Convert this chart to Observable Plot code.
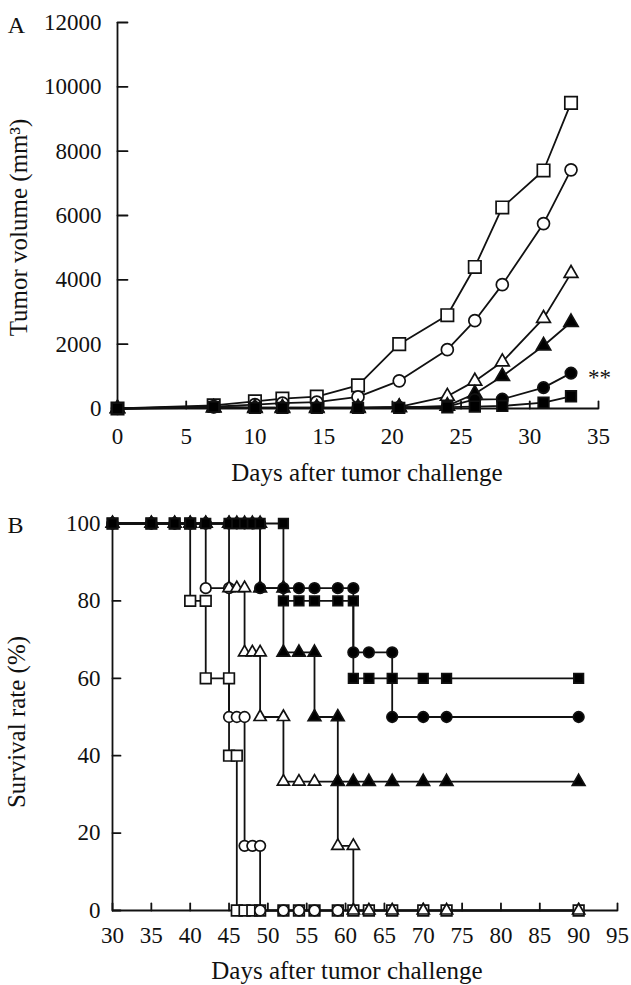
<!DOCTYPE html>
<html><head><meta charset="utf-8">
<script src="https://cdn.jsdelivr.net/npm/d3@7"></script>
<script src="https://cdn.jsdelivr.net/npm/@observablehq/plot@0.6"></script>
<style>
body{margin:0;background:#fff;}
#chart svg{display:block;}
</style></head><body><div id="chart"></div>
<script>
// ---------- Panel A: tumor volume ----------
const daysA = [0, 7, 10, 12, 14.5, 17.5, 20.5, 24, 26, 28, 31, 33];
const volOpenSquare    = [0, 100, 220, 310, 370, 720, 2000, 2900, 4400, 6250, 7400, 9500];
const volOpenCircle    = [0, 60, 120, 170, 200, 360, 860, 1830, 2730, 3850, 5750, 7420];
const volOpenTriangle  = [0, 30, 30, 30, 30, 30, 50, 380, 850, 1450, 2800, 4200];
const volFilledTriangle= [0, 20, 10, 10, 10, 10, 30, 80, 460, 1000, 1950, 2680];
const volFilledCircle  = [0, 40, 30, 30, 30, 30, 40, 60, 280, 290, 650, 1100];
const volFilledSquare  = [0, 50, 20, 20, 20, 20, 20, 40, 60, 80, 180, 380];
const xTicksA = [0, 5, 10, 15, 20, 25, 30, 35];
const yTicksA = [0, 2000, 4000, 6000, 8000, 10000, 12000];

// ---------- Panel B: survival (marker points along each step curve) ----------
const osDays = [30,35,38,40,40,42,42,45,45,46,46,47,48,49,52,54,56,59,61,63,66,70,73,90];
const osSurv = [100,100,100,100,80,80,60,60,40,40,0,0,0,0,0,0,0,0,0,0,0,0,0,0];
const ocDays = [30,35,38,40,42,42,45,45,46,47,47,48,49,49,52,54,56,59];
const ocSurv = [100,100,100,100,100,83.3,83.3,50,50,50,16.7,16.7,16.7,0,0,0,0,0];
const otDays = [30,35,38,40,42,45,45,46,47,47,48,49,49,52,52,54,56,59,59,61,61,63,66,70,73,90];
const otSurv = [100,100,100,100,100,100,83.3,83.3,83.3,66.7,66.7,66.7,50,50,33.3,33.3,33.3,33.3,16.7,16.7,0,0,0,0,0,0];
const ftDays = [30,35,38,40,42,45,46,47,48,49,49,52,52,54,56,56,59,59,61,63,66,70,73,90];
const ftSurv = [100,100,100,100,100,100,100,100,100,100,83.3,83.3,66.7,66.7,66.7,50,50,33.3,33.3,33.3,33.3,33.3,33.3,33.3];
const fcDays = [30,35,38,40,42,45,46,47,48,49,49,52,54,56,59,61,61,63,66,66,70,73,90];
const fcSurv = [100,100,100,100,100,100,100,100,100,100,83.3,83.3,83.3,83.3,83.3,83.3,66.7,66.7,66.7,50,50,50,50];
const fsDays = [30,35,38,40,42,45,46,47,48,49,52,52,54,56,59,61,61,63,66,70,73,90];
const fsSurv = [100,100,100,100,100,100,100,100,100,100,100,80,80,80,80,80,60,60,60,60,60,60];
const xTicksB = [30,35,40,45,50,55,60,65,70,75,80,85,90,95];
const yTicksB = [0, 20, 40, 60, 80, 100];

// series styling
const seriesDef = [
  {key: "openSquare",    symbol: "square",   fill: "white"},
  {key: "openCircle",    symbol: "circle",   fill: "white"},
  {key: "openTriangle",  symbol: "triangle", fill: "white"},
  {key: "filledTriangle",symbol: "triangle", fill: "black"},
  {key: "filledCircle",  symbol: "circle",   fill: "black"},
  {key: "filledSquare",  symbol: "square",   fill: "black"}
];
const rA = {openSquare: 7.0, openCircle: 6.0, openTriangle: 5.1, filledTriangle: 5.3, filledCircle: 5.7, filledSquare: 6.0};
const rB = {openSquare: 6.0, openCircle: 5.3, openTriangle: 4.5, filledTriangle: 4.7, filledCircle: 5.3, filledSquare: 5.4};

const volA = {openSquare: volOpenSquare, openCircle: volOpenCircle, openTriangle: volOpenTriangle,
  filledTriangle: volFilledTriangle, filledCircle: volFilledCircle, filledSquare: volFilledSquare};
const rowsA = seriesDef.flatMap(s => daysA.map((d, i) => ({series: s.key, day: d, v: volA[s.key][i]})));

const survB = {openSquare: [osDays, osSurv], openCircle: [ocDays, ocSurv], openTriangle: [otDays, otSurv],
  filledTriangle: [ftDays, ftSurv], filledCircle: [fcDays, fcSurv], filledSquare: [fsDays, fsSurv]};
const rowsB = seriesDef.flatMap(s => survB[s.key][0].map((d, i) => ({series: s.key, day: d, v: survB[s.key][1][i]})));

const font = "'Liberation Serif', 'DejaVu Serif', serif";
const ink = "#111";
const sw = 1.8;
const tickShape = {draw(context, l) { context.moveTo(0, 0); context.lineTo(0, -l); }};

function dots(rows, rmap) {
  const order = ["openSquare","openCircle","openTriangle","filledTriangle","filledCircle","filledSquare"];
  return order.map(k => {
    const s = seriesDef.find(d => d.key === k);
    return Plot.dot(rows.filter(r => r.series === k), {
      x: "day", y: "v", symbol: () => s.symbol, r: rmap[k],
      fill: s.fill, stroke: ink, strokeWidth: 1.7
    });
  });
}

function inwardTicks(xTicks, yTicks, x0, y0, lenX, lenY) {
  return [
    Plot.vector(xTicks, {x: d => d, y: () => y0, length: lenX, rotate: 0, anchor: "start", shape: tickShape, stroke: ink, strokeWidth: sw}),
    Plot.vector(yTicks, {x: () => x0, y: d => d, length: lenY, rotate: 90, anchor: "start", shape: tickShape, stroke: ink, strokeWidth: sw})
  ];
}

const plotA = Plot.plot({
  width: 631, height: 492,
  marginLeft: 117, marginRight: 33, marginTop: 22, marginBottom: 84,
  x: {domain: [0, 35]},
  y: {domain: [0, 12000]},
  symbol: {type: "identity"},
  style: {fontFamily: font, fontSize: "23px", color: ink, background: "white", overflow: "visible"},
  marks: [
    Plot.ruleX([0], {stroke: ink, strokeWidth: sw}),
    Plot.ruleY([0], {stroke: ink, strokeWidth: sw}),
    ...inwardTicks(xTicksA, yTicksA, 0, 0, 7, 10),
    Plot.axisX({ticks: xTicksA, tickSize: 0, tickPadding: 19, label: null, fontSize: 23}),
    Plot.axisY({ticks: yTicksA, tickSize: 0, tickPadding: 16, label: null, tickFormat: d3.format("d"), fontSize: 23}),
    Plot.line(rowsA, {x: "day", y: "v", z: "series", stroke: ink, strokeWidth: sw}),
    ...dots(rowsA, rA),
    Plot.text(["**"], {x: () => daysA[daysA.length-1], y: () => volFilledCircle[volFilledCircle.length-1], text: d => d, textAnchor: "start", lineAnchor: "middle", dx: 17, dy: 5, fontSize: 23, fill: ink}),
    Plot.text(["Days after tumor challenge"], {text: d => d, frameAnchor: "bottom", textAnchor: "middle", lineAnchor: "middle", dx: 9, dy: 64, fontSize: 25, fill: ink}),
    Plot.text(["Tumor volume (mm³)"], {text: d => d, frameAnchor: "left", textAnchor: "middle", lineAnchor: "middle", rotate: -90, dx: -99, dy: 12, fontSize: 25, fill: ink}),
    Plot.text(["A"], {text: d => d, frameAnchor: "top-left", textAnchor: "middle", lineAnchor: "middle", dx: -101, dy: 3, fontSize: 24, fill: ink})
  ]
});

const plotB = Plot.plot({
  width: 631, height: 493,
  marginLeft: 112, marginRight: 14, marginTop: 31, marginBottom: 75,
  x: {domain: [30, 95]},
  y: {domain: [0, 100]},
  symbol: {type: "identity"},
  style: {fontFamily: font, fontSize: "23px", color: ink, background: "white", overflow: "visible"},
  marks: [
    Plot.ruleX([30], {stroke: ink, strokeWidth: sw}),
    Plot.ruleY([0], {stroke: ink, strokeWidth: sw}),
    ...inwardTicks(xTicksB, yTicksB, 30, 0, 7, 8),
    Plot.axisX({ticks: xTicksB, tickSize: 0, tickPadding: 16, label: null, fontSize: 23}),
    Plot.axisY({ticks: yTicksB, tickSize: 0, tickPadding: 12, label: null, fontSize: 23}),
    Plot.line(rowsB, {x: "day", y: "v", z: "series", stroke: ink, strokeWidth: sw}),
    ...dots(rowsB, rB),
    Plot.text(["Days after tumor challenge"], {text: d => d, frameAnchor: "bottom", textAnchor: "middle", lineAnchor: "middle", dx: -18, dy: 60, fontSize: 25, fill: ink}),
    Plot.text(["Survival rate (%)"], {text: d => d, frameAnchor: "left", textAnchor: "middle", lineAnchor: "middle", rotate: -90, dx: -96, dy: 5, fontSize: 25, fill: ink}),
    Plot.text(["B"], {text: d => d, frameAnchor: "top-left", textAnchor: "middle", lineAnchor: "middle", dx: -97, dy: 2, fontSize: 24, fill: ink})
  ]
});

document.getElementById("chart").append(plotA, plotB);
</script></body></html>
